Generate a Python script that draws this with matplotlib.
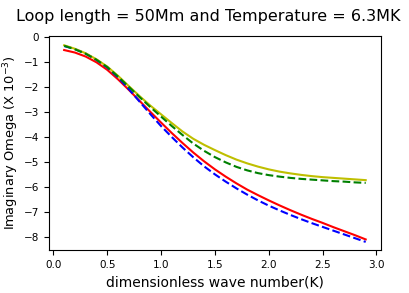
import matplotlib
matplotlib.use("Agg")
import matplotlib.pyplot as plt

# wave numbers
k = [0.1, 0.2, 0.3, 0.4, 0.5, 0.6, 0.7, 0.8, 0.9, 1.0,
     1.1, 1.2, 1.3, 1.4, 1.5, 1.6, 1.7, 1.8, 1.9, 2.0,
     2.1, 2.2, 2.3, 2.4, 2.5, 2.6, 2.7, 2.8, 2.9]

# imaginary omega (x 10^-3)
red = [-0.51, -0.61, -0.77, -1.00, -1.30, -1.68, -2.10, -2.54, -2.98, -3.41,
       -3.83, -4.23, -4.61, -4.96, -5.28, -5.57, -5.84, -6.09, -6.31, -6.52,
       -6.72, -6.91, -7.09, -7.26, -7.42, -7.59, -7.75, -7.91, -8.08]
blue = [-0.35, -0.47, -0.65, -0.90, -1.21, -1.60, -2.07, -2.57, -3.07, -3.55,
        -3.99, -4.41, -4.80, -5.16, -5.48, -5.77, -6.04, -6.29, -6.52, -6.73,
        -6.92, -7.10, -7.27, -7.43, -7.58, -7.73, -7.88, -8.03, -8.18]
yellow = [-0.32, -0.46, -0.64, -0.88, -1.17, -1.54, -1.95, -2.35, -2.73, -3.08,
          -3.43, -3.77, -4.06, -4.30, -4.51, -4.71, -4.89, -5.04, -5.17, -5.28,
          -5.37, -5.44, -5.50, -5.55, -5.59, -5.62, -5.65, -5.68, -5.71]
green = [-0.34, -0.48, -0.66, -0.90, -1.19, -1.57, -1.98, -2.39, -2.79, -3.17,
         -3.55, -3.91, -4.25, -4.54, -4.79, -5.00, -5.18, -5.32, -5.43, -5.51,
         -5.57, -5.62, -5.66, -5.69, -5.72, -5.75, -5.77, -5.80, -5.82]

fig = plt.figure(figsize=(4.09, 2.93), dpi=100)
ax = fig.add_axes([0.12, 0.147, 0.811, 0.730])

ax.plot(k, red, 'r')
ax.plot(k, blue, 'b--')
ax.plot(k, yellow, 'y')
ax.plot(k, green, 'g--')

ax.set_ylim(-8.5, 0.05)
fig.text(0.51, 0.928, "Loop length = 50Mm and Temperature = 6.3MK",
         ha='center', va='baseline', fontsize=11.5)
ax.set_xlabel("dimensionless wave number(K)", fontsize=10)
ax.set_ylabel(r"Imaginary Omega (X $10^{-3}$)", fontsize=9.4, labelpad=2)
ax.tick_params(labelsize=7.5)

fig.savefig("out.png", dpi=100)
